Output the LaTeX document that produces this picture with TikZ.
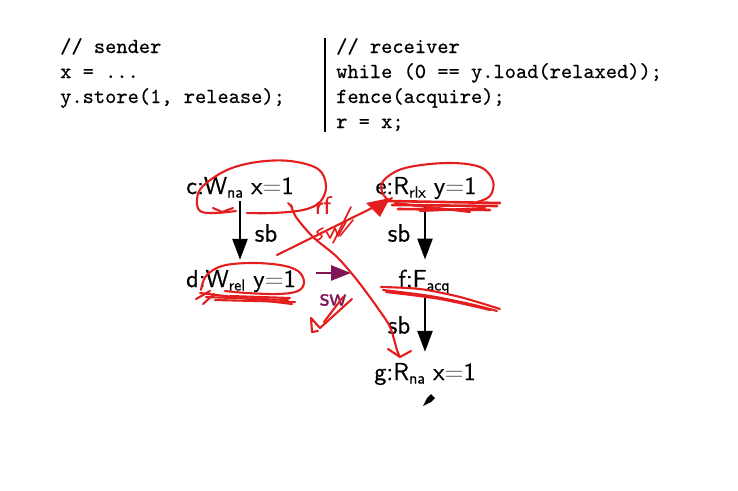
\documentclass[tikz,border=0pt]{standalone}
\usepackage{fontspec}
\usetikzlibrary{arrows.meta}
\newfontfamily\evsans{lmsans10-regular}[Extension=.otf, FakeBold=0.6]
\newfontfamily\codett{lmmono10-regular}[Extension=.otf, FakeBold=0.5]
\newcommand\evsub[1]{\raisebox{-3.5pt}{\fontsize{16}{16}\selectfont #1}}
\definecolor{ink}{RGB}{228,30,30}
\definecolor{swc}{RGB}{128,20,84}
\begin{document}
\begin{tikzpicture}[x=1pt,y=-1pt,
  code/.style={font=\fontsize{21.4}{25}\codett, anchor=base west, inner sep=0},
  ev/.style={font=\fontsize{24.5}{28}\evsans, inner sep=0, anchor=base},
  lbl/.style={font=\fontsize{25}{28}\evsans, inner sep=0},
  sbarrow/.style={line width=2.6pt, -{Triangle[length=21pt,width=15pt]}},
  pen/.style={draw=ink, line width=2.1pt, line cap=round, line join=round}]
\useasboundingbox (0,0) rectangle (738,490);
% code
\node[code] (s1) at (60,53) {// sender};
\node[code] (s2) at (60,78) {x = ...};
\node[code] (s3) at (60,103) {y.store(1, release);};
\node[code] (r1) at (336,53) {// receiver};
\node[code] (r2) at (336,78) {while (0 == y.load(relaxed));};
\node[code] (r3) at (336,103) {fence(acquire);};
\node[code] (r4) at (336,128) {r = x;};
\coordinate (v0) at (325,38);
\coordinate (v1) at (325,132);
\draw[line width=1.4pt] (v0) -- (v1);
% events
\node[ev] (c) at (240,194) {c:W\evsub{na} x{\color{gray}=}1};
\node[ev] (d) at (241,287) {d:W\evsub{rel} y{\color{gray}=}1};
\node[ev] (e) at (426,194) {e:R\evsub{rlx} y{\color{gray}=}1};
\node[ev] (f) at (424,287) {f:F\evsub{acq}};
\node[ev] (g) at (425,380) {g:R\evsub{na} x{\color{gray}=}1};
\draw[sbarrow, shorten <=3pt, shorten >=10pt] (c.south) -- (c.south |- d.north);
\draw[sbarrow, shorten <=5pt, shorten >=10pt] (g.north |- e.south) -- (g.north |- f.north);
\draw[sbarrow, shorten <=2pt, shorten >=11pt] (g.north |- f.south) -- (g.north);
\node[lbl] (sb1) at (266,233) {sb};
\node[lbl] (sb2) at (399,233) {sb};
\node[lbl] (sb3) at (399,325) {sb};
% sw
\coordinate (sw0) at (316,273);
\coordinate (sw1) at (351,273);
\draw[swc, line width=2.6pt, -{Triangle[length=20pt,width=15pt]}] (sw0) -- (sw1);
\node[lbl, text=swc] (swl) at (333,300) {sw};
% red annotations
\draw[pen] plot[smooth, tension=0.6] coordinates {(236,211) (215,213) (200,211) (197,199) (203,186) (227,170) (257,162) (290,161) (318,169) (326,186) (320,202) (303,210) (273,213) (247,213)};
\draw[pen] (213,208) -- (222,212) -- (233,208);
\draw[pen] (288,203) -- (292,207);
\draw[pen] plot[smooth] coordinates {(291,205) (296,217) (313,237) (337,257) (357,280) (377,307) (390,327) (397,350) (400,357)};
\draw[pen] (388,349) -- (400,357) -- (411,351);
\draw[pen] (277,255) -- (372,208);
\fill[ink] (366,203) -- (390,198) -- (380,217) -- cycle;
\draw[pen] (385,203) -- (392,198);
\node[lbl, text=ink] (rf) at (323,205) {rf};
\draw[pen, line width=1.6pt] plot[smooth] coordinates {(323,228) (317,232) (322,236) (318,240) (314,238)};
\draw[pen, line width=1.6pt] (326,231) -- (330,238) -- (335,228) -- (338,236) -- (346,222);
\draw[pen, line width=1.6pt] (333,243) -- (351,207);
\draw[pen, line width=1.6pt] (340,236) -- (353,220);
% d loop
\draw[pen] plot[smooth, tension=0.6] coordinates {(201,290) (206,276) (222,266) (250,263) (280,265) (298,271) (304,282) (298,291) (278,294) (247,293) (225,291)};
\draw[pen] (200,293) -- (292,304);
\draw[pen] (206,297) -- (288,300);
\draw[pen] (215,300) -- (295,302);
\draw[pen] (230,296) -- (290,298);
\draw[pen] (196,299) -- (210,291);
\draw[pen] (203,304) -- (214,294);
% e loop
\draw[pen] plot[smooth, tension=0.6] coordinates {(389,201) (382,192) (384,180) (405,168) (447,163) (480,167) (493,181) (490,196) (477,202)};
\draw[pen, line width=2.6pt] (386,201) -- (500,203);
\draw[pen, line width=2.6pt] (392,205) -- (497,206);
\draw[pen, line width=2.6pt] (398,209) -- (490,210);
\draw[pen, line width=2.2pt] (395,203) -- (470,212);
\draw[pen, line width=2.2pt] (420,211) -- (485,208);
% f underline
\draw[pen] plot[smooth] coordinates {(381,287) (420,289) (460,297) (500,309)};
\draw[pen] plot[smooth] coordinates {(383,290) (430,296) (470,304) (497,311)};
\draw[pen] plot[smooth] coordinates {(386,292) (440,299) (490,310)};
% sw check
\draw[pen] (352,299) -- (320,328) -- (311,318) -- (312,332) -- (318,331);
\draw[pen] (343,297) -- (324,322);
% pen cursor
\fill[black] (423,406) -- (427,398) -- (431,394) -- (435,398) -- (431,402) -- cycle;
\end{tikzpicture}
\end{document}
